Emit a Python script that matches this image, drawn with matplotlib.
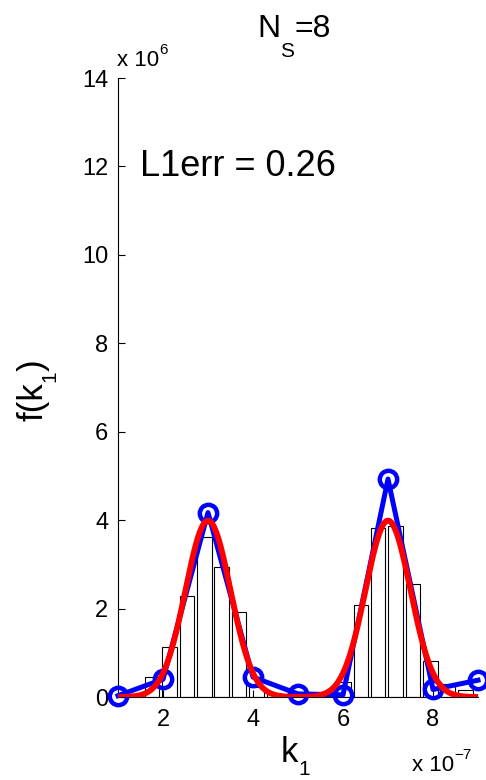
import numpy as np
import matplotlib
matplotlib.use('Agg')
import matplotlib.pyplot as plt
from matplotlib.transforms import IdentityTransform

plt.rcParams['font.family'] = ['Liberation Sans', 'DejaVu Sans']

# histogram bins (x in units of 1e-7, heights in units of 1e6)
bin_centers = [0.98, 1.37, 1.76, 2.14, 2.53, 2.92, 3.30, 3.69, 4.08, 4.46, 4.85,
               5.24, 5.62, 6.01, 6.40, 6.78, 7.17, 7.56, 7.94, 8.33, 8.72]
bin_heights = [0.0, 0.0, 0.45, 1.13, 2.29, 3.61, 2.95, 1.93, 0.22, 0.10, 0.0,
               0.0, 0.0, 0.35, 2.08, 3.82, 3.87, 2.55, 0.82, 0.30, 0.15]

# estimated density at sample points (blue)
est_x = [1, 2, 3, 4, 5, 6, 7, 8, 9]
est_y = [0.03, 0.40, 4.17, 0.45, 0.07, 0.05, 4.93, 0.17, 0.38]

# true density: two gaussian components (red)
true_means = [3.0, 7.0]
true_sigma = 0.5
true_weights = [0.5, 0.5]

W, H = 486, 780

xs = np.linspace(1, 9, 400)
ys = np.zeros_like(xs)
for m, w in zip(true_means, true_weights):
    # density per 1e-7 -> in units of 1e6
    ys += w * np.exp(-0.5 * ((xs - m) / true_sigma) ** 2) / (true_sigma * np.sqrt(2 * np.pi)) * 10

fig = plt.figure(figsize=(W / 100, H / 100), dpi=100)
ax = fig.add_axes([118 / W, 1 - 697 / H, 360 / W, 619 / H])

ax.bar(bin_centers, bin_heights, width=0.32, facecolor='white', edgecolor='black', linewidth=0.8)
ax.plot(est_x, est_y, '-o', color='blue', linewidth=3.6, markersize=12.5,
        markerfacecolor='none', markeredgewidth=3.2, clip_on=False, zorder=3)
ax.plot(xs, ys, color='red', linewidth=4.2, zorder=4)

ax.set_xlim(1, 9)
ax.set_ylim(0, 14)
ax.set_xticks([2, 4, 6, 8])
ax.set_yticks([0, 2, 4, 6, 8, 10, 12, 14])
ax.spines['top'].set_visible(False)
ax.spines['right'].set_visible(False)
ax.tick_params(direction='in', length=5, width=0.8, labelsize=17)
ax.tick_params(axis='x', pad=9)
ax.tick_params(axis='y', pad=7)

ax.text(1.5, 12.0, 'L1err = 0.26', fontsize=26, ha='left', va='center')

renderer = fig.canvas.get_renderer()


def put_pieces(x0, y0, pieces, rotation=0):
    # pieces: (text, fontsize, baseline shift in px, positive = down/right)
    pos = x0 if rotation == 0 else y0
    for s, fs, shift in pieces:
        if rotation == 0:
            t = fig.text(pos, H - y0 - shift, s, fontsize=fs, ha='left', va='baseline',
                         transform=IdentityTransform())
            pos = t.get_window_extent(renderer).x1
        else:
            t = fig.text(x0 + shift, H - pos, s, fontsize=fs, ha='left', va='baseline',
                         rotation=90, rotation_mode='anchor', transform=IdentityTransform())
            pos = H - t.get_window_extent(renderer).y1


# title N_S=8
put_pieces(257, 37, [('N', 23, 0), ('S', 15, 20), ('=8', 23, 0)])
# x label k_1
put_pieces(281, 762, [('k', 25, 0), ('1', 15, 13)])
# y label f(k_1)
put_pieces(43, 421, [('f(k', 25, 0), ('1', 15, 12), (')', 25, 0)], rotation=90)
# exponent labels
put_pieces(117, 66, [('x 10', 16, 0), ('6', 11, -12)])
put_pieces(412, 771, [('x 10', 16, 0), ('\u22127', 11, -12)])

fig.savefig('out.png', dpi=100)
